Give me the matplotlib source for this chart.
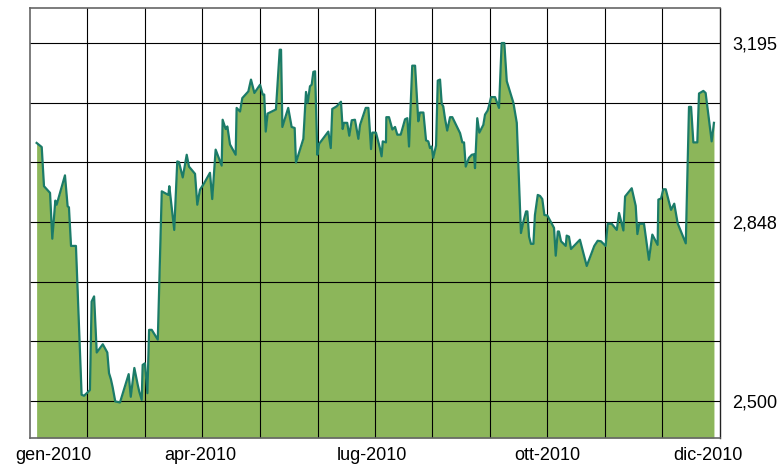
import matplotlib
matplotlib.use("Agg")
import matplotlib.pyplot as plt

plt.rcParams['font.family'] = ['Liberation Sans', 'DejaVu Sans']

# day of year (0-365) and index value
days = [
    3.5, 6.2, 7.4, 10.6, 11.8, 13.4, 14.1, 18.5, 19.9, 20.6, 21.7, 24.3,
    27.3, 28.6, 31.7, 32.6, 33.9, 35.3, 38.5, 40.9, 41.8, 42.8, 43.7, 45.1,
    47.6, 52.2, 53.3, 55.2, 57.0, 57.8, 59.1, 59.6, 60.8, 62.1, 63.0, 64.4,
    67.6, 69.7, 73.2, 73.7, 76.3, 77.9, 78.8, 80.8, 82.0, 82.9, 84.1, 87.3,
    88.5, 89.9, 92.0, 95.2, 96.4, 98.2, 101.4, 101.9, 103.5, 104.4, 105.8,
    108.8, 109.3, 111.1, 112.3, 115.5, 116.9, 118.7, 121.7, 123.1, 123.9,
    124.7, 125.7, 130.1, 132.1, 132.8, 133.5, 136.6, 138.4, 140.0, 140.7,
    144.6, 146.0, 146.9, 148.1, 149.0, 149.9, 150.8, 152.0, 152.9, 157.8,
    159.1, 159.9, 162.2, 164.5, 165.4, 166.1, 167.8, 168.9, 170.2, 171.9,
    173.7, 174.6, 177.6, 179.0, 180.4, 181.1, 183.0, 184.2, 185.1, 186.0,
    186.6, 188.3, 188.5, 189.9, 191.7, 193.1, 194.3, 196.1, 198.4, 199.6,
    200.5, 202.2, 203.7, 205.4, 206.3, 208.1, 209.5, 210.7, 211.6, 212.5,
    213.3, 214.8, 215.7, 216.9, 217.8, 218.6, 219.5, 220.7, 222.2, 223.4,
    227.5, 228.7, 229.6, 230.5, 232.2, 233.7, 234.9, 235.4, 236.6, 237.7,
    239.8, 240.7, 242.1, 242.8, 243.9, 246.0, 248.1, 249.5, 250.9, 252.2,
    255.7, 257.5, 259.7, 261.0, 262.4, 263.1, 264.0, 265.0, 266.3, 267.1,
    268.6, 269.8, 271.0, 272.1, 273.7, 276.0, 277.2, 278.1, 279.2, 279.8,
    280.9, 283.4, 283.9, 285.1, 286.2, 290.9, 294.5, 298.5, 300.3, 302.0,
    304.5, 305.6, 307.7, 310.4, 311.6, 313.9, 314.8, 318.3, 320.4, 321.3,
    322.3, 324.8, 327.4, 329.2, 332.0, 332.4, 333.8, 335.0, 336.3, 339.1,
    340.8, 342.6, 346.9, 348.6, 349.7, 350.9, 353.0, 353.9, 356.2, 357.4,
    360.6, 361.8,
]
values = [
    3001, 2993, 2917, 2904, 2815, 2889, 2881, 2938, 2878, 2876, 2801, 2801,
    2512, 2510, 2521, 2693, 2703, 2594, 2610, 2594, 2554, 2542, 2527, 2499,
    2497, 2552, 2508, 2564, 2531, 2518, 2502, 2570, 2573, 2515, 2638, 2638,
    2619, 2907, 2900, 2917, 2832, 2965, 2964, 2934, 2959, 2978, 2955, 2941,
    2881, 2910, 2922, 2943, 2892, 2988, 2957, 3046, 3028, 3033, 2998,
    2978, 3069, 3062, 3088, 3101, 3124, 3098, 3114, 3095, 3095,
    3023, 3058, 3066, 3182, 3182, 3032, 3069, 3032, 3030, 2963,
    3009, 3100, 3079, 3111, 3114, 3139, 3140, 2978, 2999, 3023,
    2991, 3067, 3072, 3081, 3028, 3040, 3040, 3015, 3045, 3046,
    3009, 3036, 3069, 3069, 2989, 3021, 3021, 3004, 2991, 2975,
    3004, 3002, 3051, 3051, 3027, 3032, 3017, 3017, 3047, 3049,
    2994, 3151, 3151, 3043, 3060, 3060, 3006, 3004, 2991, 2994,
    2972, 2996, 3122, 3124, 3077, 3072, 3049, 3025, 3051, 3051,
    3020, 3002, 3002, 2955, 2972, 2978, 2979, 2952, 3049, 3021,
    3036, 3056, 3064, 3073, 3090, 3090, 3069, 3195, 3195, 3121,
    3079, 3040, 2826, 2848, 2868, 2868, 2819, 2805, 2805, 2861,
    2900, 2898, 2892, 2861, 2860, 2844, 2836, 2782, 2829, 2829,
    2810, 2801, 2821, 2819, 2795, 2813, 2762, 2801, 2811, 2810,
    2801, 2844, 2844, 2832, 2865, 2831, 2897, 2913, 2879, 2824,
    2844, 2844, 2774, 2823, 2803, 2891, 2893, 2911, 2911, 2871,
    2883, 2845, 2806, 3071, 3071, 3002, 3002, 3097, 3102, 3098,
    3004, 3040,
]

month_labels = ["gen-2010", "apr-2010", "lug-2010", "ott-2010", "dic-2010"]
month_label_pos = [12.2, 89.9, 180.9, 273.5, 358.4]
y_labels = ["2,500", "2,848", "3,195"]
y_label_pos = [2500, 2847.5, 3195]
y_min, y_max = 2428, 3263

fig = plt.figure(figsize=(7.81, 4.68), dpi=100)
ax = fig.add_axes([30 / 781, 1 - 438 / 468, 690 / 781, 430 / 468])

fill_color = '#8cb65a'
line_color = '#1b7b68'
ax.fill_between(days, values, y_min, color=fill_color, linewidth=0, zorder=1)
ax.plot(days, values, color=line_color, linewidth=1.6, zorder=3)

ax.set_xlim(0, 365)
ax.set_ylim(y_min, y_max)

# gridlines: monthly vertical, horizontal every sixth of the labelled span
step = (3195 - 2500) / 6
for k in range(7):
    ax.axhline(2500 + k * step, color='black', linewidth=0.8, zorder=2)
for k in range(1, 12):
    ax.axvline(k * 365 / 12, color='black', linewidth=0.8, zorder=2)

ax.yaxis.tick_right()
ax.set_yticks(y_label_pos)
ax.set_yticklabels(y_labels)
ax.set_xticks(month_label_pos)
ax.set_xticklabels(month_labels)
ax.tick_params(axis='both', length=0, labelsize=13, colors='black')
ax.tick_params(axis='y', pad=9)
ax.tick_params(axis='x', pad=16)
for lbl in ax.get_xticklabels():
    lbl.set_verticalalignment('baseline')

for side in ['left', 'top', 'bottom']:
    ax.spines[side].set_color('#666666')
    ax.spines[side].set_linewidth(1.2)
ax.spines['right'].set_color('#222222')
ax.spines['right'].set_linewidth(1.0)

fig.savefig("out.png", dpi=100)
